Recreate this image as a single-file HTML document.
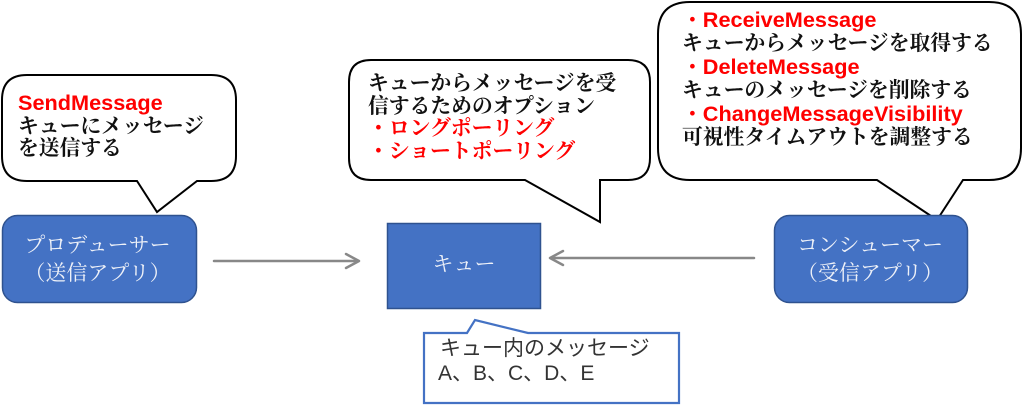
<!DOCTYPE html>
<html><head><meta charset="utf-8">
<style>
html,body{margin:0;padding:0;background:#fff;}
body{width:1024px;height:406px;position:relative;overflow:hidden;}
svg{position:absolute;left:0;top:0;}
.t{position:absolute;white-space:nowrap;font-family:"Liberation Serif","Noto Serif CJK SC",serif;font-size:20.8px;color:#111;font-weight:700;}
.r{color:#ff0000;}
.l{font-family:"Liberation Sans","Noto Sans CJK JP",sans-serif;font-weight:700;font-size:21.7px;}
.b{position:absolute;text-align:center;font-family:"Liberation Serif","Noto Serif CJK SC",serif;font-size:21px;color:#eef1f8;line-height:27.5px;white-space:nowrap;}
</style></head><body>
<svg width="1024" height="406" viewBox="0 0 1024 406">
  <path d="M27,75 H211 Q236,75 236,100 V156 Q236,181 211,181 H197 L157,212 L137,181 H27 Q2,181 2,156 V100 Q2,75 27,75 Z" fill="#fff" stroke="#000" stroke-width="2"/>
  <path d="M371,60 H628 Q650,60 650,82 V158 Q650,180 628,180 H600 V222 L525,180 H371 Q349,180 349,158 V82 Q349,60 371,60 Z" fill="#fff" stroke="#000" stroke-width="2"/>
  <path d="M690,2 H989 Q1021,2 1021,34 V148 Q1021,180 989,180 H963 L937,220 L877,180 H690 Q658,180 658,148 V34 Q658,2 690,2 Z" fill="#fff" stroke="#000" stroke-width="2"/>
  <rect x="2.5" y="215.5" width="194" height="87" rx="15" fill="#4472c4" stroke="#2f528f" stroke-width="1.5"/>
  <rect x="774.5" y="215.5" width="193" height="87" rx="15" fill="#4472c4" stroke="#2f528f" stroke-width="1.5"/>
  <rect x="387.5" y="223.5" width="153" height="85" fill="#4472c4" stroke="#2f528f" stroke-width="1.5"/>
  <g stroke="#888" stroke-width="2.5" fill="none" stroke-linecap="round" stroke-linejoin="round">
    <line x1="214" y1="261" x2="357" y2="261"/>
    <polyline points="346,254 359,261 346,268"/>
    <line x1="754" y1="258" x2="552" y2="258"/>
    <polyline points="563,251 550,258 563,265"/>
  </g>
  <path d="M424,333 H467 L475,320 L528,333 H679 V403 H424 Z" fill="#fff" stroke="#4472c4" stroke-width="2.2"/>
</svg>

<div class="t" style="left:18px;top:92px;line-height:22.5px;">
<span class="r l">SendMessage</span><br>キューにメッセージ<br>を送信する
</div>

<div class="t" style="left:368px;top:73px;line-height:22.5px;">
キューからメッセージを受<br>信するためのオプション<br><span class="r">・ロングポーリング</span><br><span class="r">・ショートポーリング</span>
</div>

<div class="t" style="left:682px;top:8px;line-height:23px;">
<span class="r">・<span class="l">ReceiveMessage</span></span><br>キューからメッセージを取得する<br><span class="r">・<span class="l">DeleteMessage</span></span><br>キューのメッセージを削除する<br><span class="r">・<span class="l">ChangeMessageVisibility</span></span><br>可視性タイムアウトを調整する
</div>

<div class="b" style="left:0px;top:232px;width:195px;">プロデューサー<br>（送信アプリ）</div>
<div class="b" style="left:773px;top:232px;width:194px;">コンシューマー<br>（受信アプリ）</div>
<div class="b" style="left:387px;top:251px;width:154px;">キュー</div>

<div style="position:absolute;left:440px;top:336px;line-height:25px;font-size:21px;color:#333;font-family:'Liberation Sans','Noto Sans CJK JP',sans-serif;white-space:nowrap;">キュー内のメッセージ<br><span style="position:relative;left:-2px;">A、B、C、D、E</span></div>
</body></html>
